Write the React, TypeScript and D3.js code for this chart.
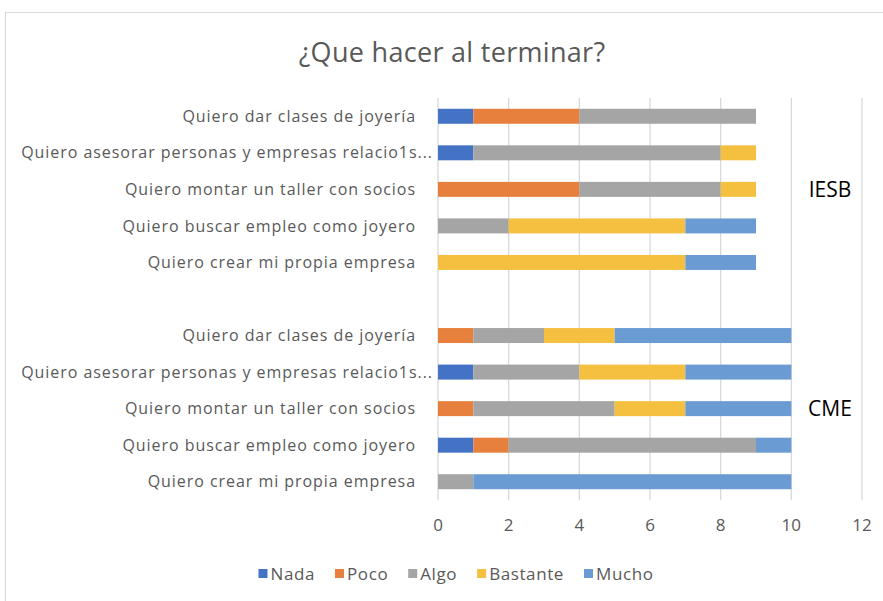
import React, { useEffect, useRef } from 'react';
import * as d3 from 'd3';

const title = '¿Que hacer al terminar?';
const series = ['Nada', 'Poco', 'Algo', 'Bastante', 'Mucho'];
const seriesColors = ['#4472C4', '#E6803C', '#A5A5A5', '#F5C040', '#6A9BD2'];
const groups = ['IESB', 'CME'];
const categories = [
  'Quiero dar clases de joyería',
  'Quiero asesorar personas y empresas relacio1s...',
  'Quiero montar un taller con socios',
  'Quiero buscar empleo como joyero',
  'Quiero crear mi propia empresa',
];
// values per category, order: Nada, Poco, Algo, Bastante, Mucho
const iesbValues = [
  [1, 3, 5, 0, 0],
  [1, 0, 7, 1, 0],
  [0, 4, 4, 1, 0],
  [0, 0, 2, 5, 2],
  [0, 0, 0, 7, 2],
];
const cmeValues = [
  [0, 1, 2, 2, 5],
  [1, 0, 3, 3, 3],
  [0, 1, 4, 2, 3],
  [1, 1, 7, 0, 1],
  [0, 0, 1, 0, 9],
];
const xTicks = [0, 2, 4, 6, 8, 10, 12];

const W = 883;
const H = 601;
const FONT = '"Open Sans", sans-serif';
const TEXT = '#595959';

export default function App() {
  const ref = useRef<SVGSVGElement>(null);

  useEffect(() => {
    const svg = d3.select(ref.current);
    svg.selectAll('*').remove();

    const margin = { top: 98, left: 438, bottom: 101, right: 21 };

    // rows: IESB block, an empty slot, then CME block
    const rows: { key: string; label: string; group: string; vals: number[] }[] = [];
    categories.forEach((c, i) => rows.push({ key: 'I' + i, label: c, group: 'IESB', vals: iesbValues[i] }));
    rows.push({ key: 'gap', label: '', group: '', vals: [] });
    categories.forEach((c, i) => rows.push({ key: 'C' + i, label: c, group: 'CME', vals: cmeValues[i] }));

    const x = d3.scaleLinear().domain([0, 12]).range([margin.left, W - margin.right]);
    const y = d3
      .scaleBand()
      .domain(rows.map((r) => r.key))
      .range([margin.top, H - margin.bottom])
      .paddingInner(0.59)
      .paddingOuter(0.295);

    // frame
    svg.append('rect')
      .attr('x', 5.5).attr('y', 12.5)
      .attr('width', W + 20).attr('height', H + 20)
      .attr('fill', '#fff').attr('stroke', '#d9d9d9');

    svg.append('text')
      .attr('x', 452).attr('y', 62)
      .attr('text-anchor', 'middle')
      .attr('font-family', FONT).attr('font-size', 27)
      .attr('letter-spacing', 0.3)
      .attr('fill', TEXT)
      .text(title);

    // gridlines
    svg.append('g')
      .selectAll('line')
      .data(xTicks)
      .enter()
      .append('line')
      .attr('x1', (d) => x(d)).attr('x2', (d) => x(d))
      .attr('y1', margin.top).attr('y2', H - margin.bottom)
      .attr('stroke', '#d9d9d9').attr('stroke-width', 1.3);

    // stacked bars
    const stack = d3.stack<number[]>().keys(series.map((_, i) => String(i))).value((d, k) => d[+k] || 0);
    const real = rows.filter((r) => r.vals.length);
    const layers = stack(real.map((r) => r.vals));
    layers.forEach((layer, si) => {
      svg.append('g')
        .attr('fill', seriesColors[si])
        .selectAll('rect')
        .data(layer.map((seg, i) => ({ seg, row: real[i] })))
        .enter()
        .filter((d) => d.seg[1] > d.seg[0])
        .append('rect')
        .attr('x', (d) => x(d.seg[0]))
        .attr('width', (d) => x(d.seg[1]) - x(d.seg[0]))
        .attr('y', (d) => y(d.row.key) as number)
        .attr('height', y.bandwidth());
    });

    // category labels
    svg.append('g')
      .selectAll('text')
      .data(real)
      .enter()
      .append('text')
      .attr('x', (d) => (d.label.endsWith('...') ? 433 : 416))
      .attr('y', (d) => (y(d.key) as number) + y.bandwidth() / 2)
      .attr('dy', '0.35em')
      .attr('text-anchor', 'end')
      .attr('font-family', FONT).attr('font-size', 16)
      .attr('letter-spacing', 0.95)
      .attr('fill', TEXT)
      .text((d) => d.label);

    // x tick labels
    svg.append('g')
      .selectAll('text')
      .data(xTicks)
      .enter()
      .append('text')
      .attr('x', (d) => x(d))
      .attr('y', 531)
      .attr('text-anchor', 'middle')
      .attr('font-family', FONT).attr('font-size', 17)
      .attr('fill', TEXT)
      .text((d) => d);

    // group labels
    groups.forEach((g) => {
      const keys = rows.filter((r) => r.group === g).map((r) => r.key);
      const mid = ((y(keys[0]) as number) + (y(keys[keys.length - 1]) as number) + y.bandwidth()) / 2;
      svg.append('text')
        .attr('x', 830)
        .attr('y', mid)
        .attr('dy', '0.35em')
        .attr('text-anchor', 'middle')
        .attr('font-family', FONT).attr('font-size', 21)
        .attr('fill', '#000')
        .text(g);
    });

    // legend
    const leg = svg.append('g');
    let cx = 0;
    series.forEach((s, i) => {
      const item = leg.append('g').attr('transform', `translate(${cx},0)`);
      item.append('rect').attr('x', 0).attr('y', -5).attr('width', 9).attr('height', 9).attr('fill', seriesColors[i]);
      const t = item.append('text')
        .attr('x', 12).attr('y', 0).attr('dy', '0.35em')
        .attr('font-family', FONT).attr('font-size', 17)
        .attr('letter-spacing', 0.6)
        .attr('fill', TEXT)
        .text(s);
      const w = (t.node() as SVGTextElement).getComputedTextLength();
      cx += 12 + w + 20;
    });
    const total = cx - 20;
    leg.attr('transform', `translate(${456 - total / 2},574)`);
  }, []);

  return (
    <div style={{ position: 'fixed', left: 0, top: 0 }}>
      <svg ref={ref} width={W} height={H} style={{ display: 'block' }} />
    </div>
  );
}
